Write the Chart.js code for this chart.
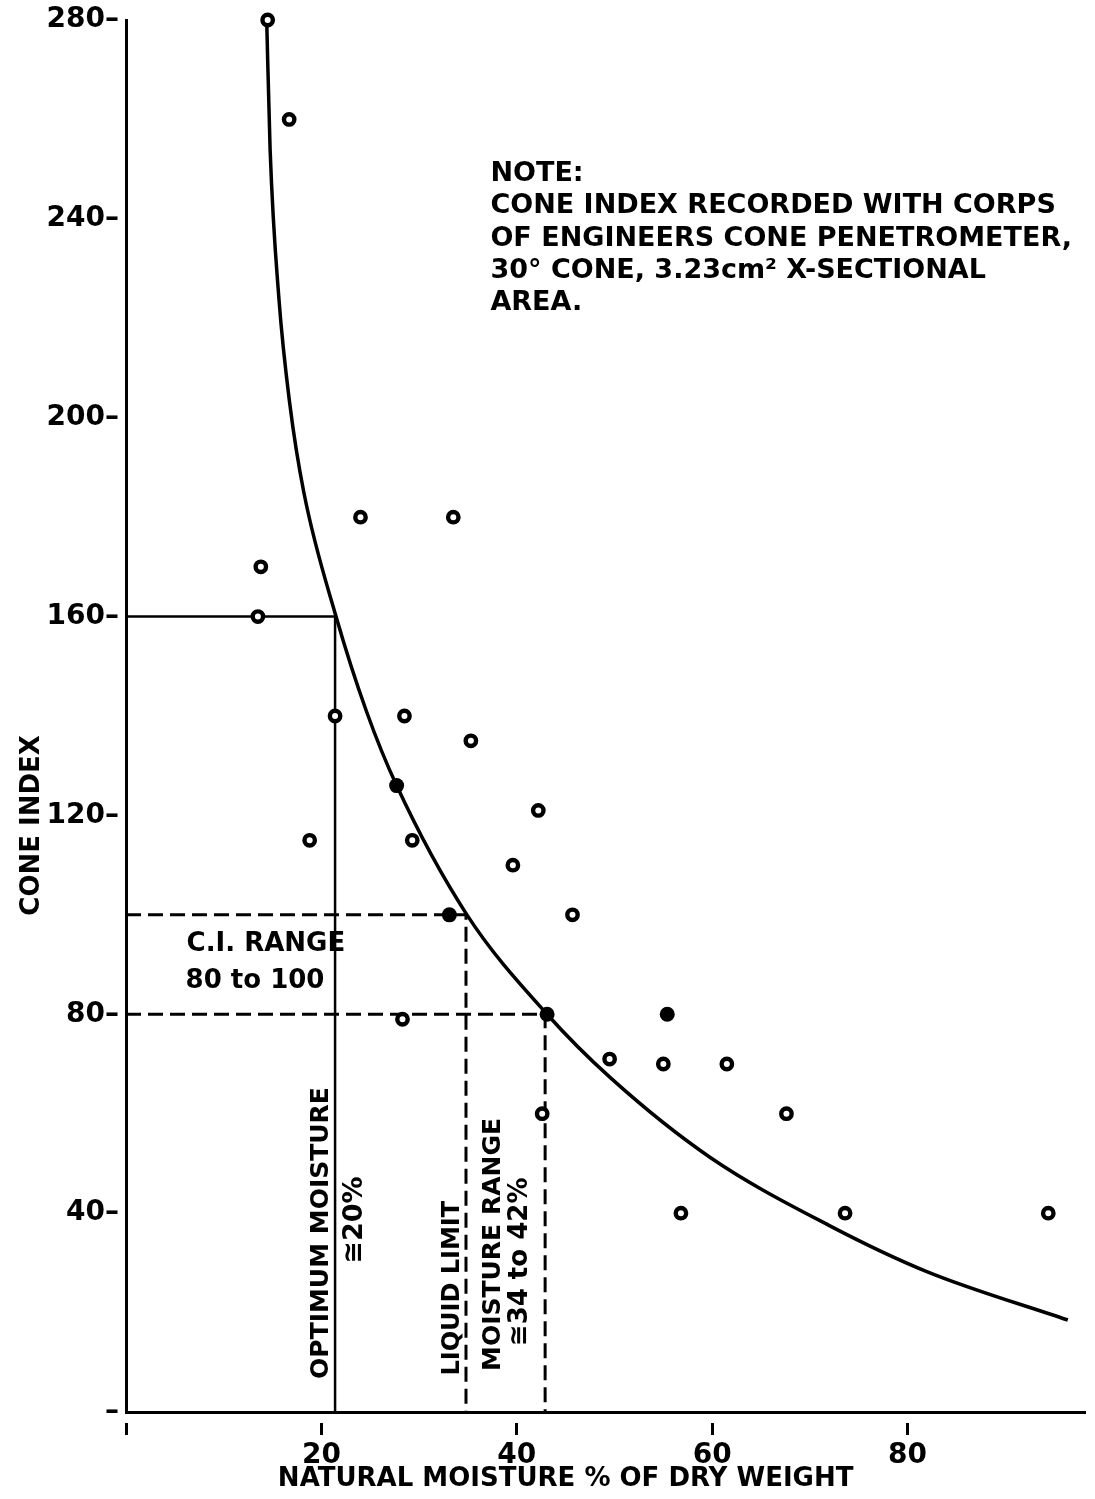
<!DOCTYPE html>
<html>
<head>
<meta charset="utf-8">
<script src="https://cdn.jsdelivr.net/npm/chart.js@4.4.0/dist/chart.umd.min.js"></script>
<style>
    html, body { margin: 0; padding: 0; background: #fff; }
    #wrap { width: 1095px; height: 1499px; position: relative; }
</style>
</head>
<body>
<div id="wrap"><canvas id="myChart"></canvas></div>
<script>
// ring markers (natural moisture %, cone index)
const openMoisture = [14.5, 16.7, 13.8, 13.5, 24.0, 33.5, 21.4, 28.5, 35.3, 18.8, 29.3, 42.2, 39.6, 45.7, 28.3, 49.5, 55.0, 61.5, 42.6, 67.6, 56.8, 73.6, 94.4];
const openCone = [280, 260, 170, 160, 180, 180, 140, 140, 135, 115, 115, 121, 110, 100, 79, 71, 70, 70, 60, 60, 40, 40, 40];

// solid markers
const solidMoisture = [27.7, 33.1, 43.1, 55.4];
const solidCone = [126, 100, 80, 80];

// hand drawn curve
const curveMoisture = [14.4, 14.75, 15.65, 16.75, 18.2, 21.5, 24.6, 27.7, 34.9, 43.1, 49.6, 59.8, 71.9, 81.9, 96.4];
const curveCone = [280, 254, 224, 203, 185, 160, 141, 126, 100, 80, 67.2, 51.2, 37.6, 28.3, 18.5];

// guide lines
const optimumMoisture = [0, 21.4, 21.4];
const optimumCone = [160, 160, 0];
const liquidMoisture = [0, 34.8, 34.8];
const liquidCone = [100, 100, 0];
const rangeMoisture = [0, 42.9, 42.9];
const rangeCone = [80, 80, 0];

const xTicks = [0, 20, 40, 60, 80];
const yTicks = [0, 40, 80, 120, 160, 200, 240, 280];

function toPoints(xs, ys) {
    return xs.map((v, i) => ({ x: v, y: ys[i] }));
}

Chart.defaults.font.family = "'DejaVu Sans', sans-serif";
Chart.defaults.font.weight = 'bold';
Chart.defaults.color = '#000';

// text written on the figure
const textPlugin = {
    id: 'figureText',
    afterDatasetsDraw(chart) {
        const ctx = chart.ctx;
        const sx = chart.scales.x;
        const sy = chart.scales.y;

        function put(text, mx, cy, size, align, rotate) {
            const px = sx.getPixelForValue(mx);
            const py = sy.getPixelForValue(cy);
            ctx.save();
            ctx.font = 'bold ' + size + "px 'DejaVu Sans', sans-serif";
            ctx.fillStyle = '#000';
            ctx.textBaseline = 'middle';
            ctx.textAlign = align;
            ctx.translate(px, py);
            if (rotate) ctx.rotate(-Math.PI / 2);
            ctx.fillText(text, 0, 0);
            ctx.restore();
        }

        put('NOTE:', 37.3, 249.0, 27, 'left');
        put('CONE INDEX RECORDED WITH CORPS', 37.3, 242.5, 27, 'left');
        put('OF ENGINEERS CONE PENETROMETER,', 37.3, 236.0, 27, 'left');
        put('30° CONE, 3.23cm² X-SECTIONAL', 37.3, 229.5, 27, 'left');
        put('AREA.', 37.3, 223.0, 27, 'left');

        put('C.I. RANGE', 6.2, 94.1, 26, 'left');
        put('80 to 100', 6.1, 86.7, 26, 'left');

        put('OPTIMUM MOISTURE', 20.0, 36.0, 25, 'center', true);
        put('≅20%', 23.4, 38.6, 27, 'center', true);
        put('LIQUID LIMIT', 33.4, 24.9, 24, 'center', true);
        put('MOISTURE RANGE', 37.6, 33.7, 25, 'center', true);
        put('≅34 to 42%', 40.4, 30.2, 26, 'center', true);

        put('CONE INDEX', -9.6, 118, 26, 'center', true);
        put('NATURAL MOISTURE % OF DRY WEIGHT', 45.0, -13.6, 26, 'center');
    }
};

const ctx = document.getElementById('myChart').getContext('2d');
const chart = new Chart(ctx, {
    type: 'scatter',
    data: {
        datasets: [
            {
                label: 'solid',
                data: toPoints(solidMoisture, solidCone),
                pointRadius: 7.5,
                pointBorderWidth: 0,
                pointBackgroundColor: '#000',
                clip: false,
                order: 0
            },
            {
                label: 'open',
                data: toPoints(openMoisture, openCone),
                pointRadius: 5.2,
                pointBorderWidth: 4.4,
                pointBorderColor: '#000',
                pointBackgroundColor: '#fff',
                clip: false,
                order: 1
            },
            {
                label: 'curve',
                data: toPoints(curveMoisture, curveCone),
                showLine: true,
                borderColor: '#000',
                borderWidth: 3.5,
                pointRadius: 0,
                cubicInterpolationMode: 'monotone',
                clip: false,
                order: 2
            },
            {
                label: 'optimum',
                data: toPoints(optimumMoisture, optimumCone),
                showLine: true,
                borderColor: '#000',
                borderWidth: 2.5,
                pointRadius: 0,
                order: 3
            },
            {
                label: 'liquid limit',
                data: toPoints(liquidMoisture, liquidCone),
                showLine: true,
                borderColor: '#000',
                borderWidth: 3,
                borderDash: [15, 7],
                pointRadius: 0,
                order: 4
            },
            {
                label: 'range',
                data: toPoints(rangeMoisture, rangeCone),
                showLine: true,
                borderColor: '#000',
                borderWidth: 3,
                borderDash: [15, 7],
                pointRadius: 0,
                order: 5
            }
        ]
    },
    options: {
        responsive: true,
        maintainAspectRatio: false,
        animation: false,
        layout: { padding: { top: 20, right: 0, bottom: 0, left: 0 } },
        plugins: {
            legend: { display: false },
            tooltip: { enabled: false }
        },
        scales: {
            x: {
                type: 'linear',
                min: 0,
                max: 98.2,
                border: { display: true, color: '#000', width: 3 },
                grid: {
                    drawOnChartArea: false,
                    drawTicks: true,
                    tickLength: 23,
                    tickWidth: 3,
                    tickColor: '#000',
                    tickBorderDash: [0, 9, 14, 0]
                },
                ticks: {
                    stepSize: 20,
                    padding: 4,
                    autoSkip: false,
                    maxRotation: 0,
                    font: { size: 28, weight: 'bold' },
                    callback: (v) => xTicks.includes(v) ? (v === 0 ? '' : String(v)) : null
                },
                afterFit: (scale) => {
                    scale.height = 87;
                    scale.paddingLeft = 0;
                    scale.paddingRight = 0;
                }
            },
            y: {
                type: 'linear',
                min: 0,
                max: 280,
                border: { display: true, color: '#000', width: 3 },
                grid: {
                    drawOnChartArea: false,
                    drawTicks: true,
                    tickLength: 7,
                    tickColor: 'rgba(0,0,0,0)'
                },
                ticks: {
                    stepSize: 40,
                    padding: 0,
                    font: { size: 28, weight: 'bold' },
                    callback: (v) => yTicks.includes(v) ? (v === 0 ? '–' : v + '–') : null
                },
                afterFit: (scale) => {
                    scale.width = 126;
                    scale.paddingTop = 0;
                    scale.paddingBottom = 0;
                }
            }
        }
    },
    plugins: [textPlugin]
});
</script>
</body>
</html>
